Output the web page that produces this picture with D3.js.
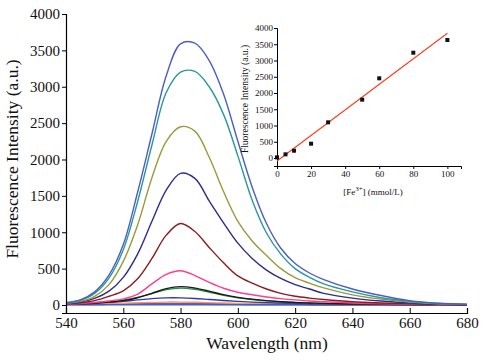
<!DOCTYPE html>
<html>
<head>
<meta charset="utf-8">
<script src="https://cdn.jsdelivr.net/npm/d3@7"></script>
<style>
  body { margin: 0; background: #fff; }
  svg { display: block; font-family: 'Liberation Serif', 'DejaVu Serif', serif; }
</style>
</head>
<body>
<div id="chart"></div>
<script>
// wavelengths (nm) shared by all spectra
var wavelengths = [540, 545, 550, 555, 560, 565, 570, 575, 580, 585, 590, 595, 600, 605, 610, 615, 620, 625, 630, 640, 650, 660, 670, 680];

// spectra, highest first
var spec100 = [30, 70, 180, 410, 830, 1550, 2350, 3150, 3590, 3600, 3360, 2900, 2250, 1620, 1120, 780, 570, 440, 350, 220, 130, 60, 25, 10];
var spec80 = [30, 65, 160, 370, 760, 1420, 2200, 2920, 3200, 3210, 3000, 2620, 2050, 1440, 990, 700, 500, 380, 290, 180, 100, 50, 20, 8];
var spec60 = [25, 50, 120, 280, 600, 1100, 1750, 2250, 2450, 2390, 2030, 1560, 1150, 880, 680, 500, 375, 300, 235, 140, 80, 40, 15, 8];
var spec50 = [20, 40, 90, 190, 380, 700, 1150, 1580, 1810, 1740, 1430, 1130, 850, 640, 480, 365, 280, 220, 160, 95, 55, 28, 12, 5];
var spec30 = [15, 30, 60, 120, 195, 360, 640, 960, 1120, 1010, 790, 580, 400, 300, 220, 160, 120, 95, 75, 45, 28, 15, 8, 4];
var spec20 = [10, 20, 35, 55, 85, 150, 290, 420, 470, 405, 310, 230, 175, 140, 110, 88, 70, 55, 45, 28, 15, 8, 4, 2];
var spec10 = [12, 16, 25, 40, 60, 100, 160, 225, 252, 232, 190, 142, 105, 80, 60, 45, 35, 28, 22, 14, 8, 5, 3, 2];
var spec10b = [14, 20, 30, 46, 66, 104, 158, 212, 232, 214, 176, 132, 98, 74, 56, 42, 33, 26, 20, 13, 8, 5, 3, 2];
var spec5 = [12, 16, 24, 36, 50, 70, 88, 98, 98, 90, 76, 62, 50, 40, 32, 26, 21, 18, 15, 11, 8, 6, 4, 3];
var spec3 = [8, 10, 14, 18, 24, 30, 36, 40, 40, 37, 32, 27, 22, 18, 15, 12, 10, 9, 8, 6, 5, 4, 3, 2];
var spec2 = [20, 18, 16, 16, 17, 18, 20, 21, 21, 20, 19, 17, 15, 13, 12, 10, 9, 8, 7, 6, 5, 4, 3, 2];
var spec1 = [5, 6, 7, 8, 9, 10, 11, 12, 12, 11, 10, 9, 8, 7, 6, 5, 5, 4, 4, 3, 3, 2, 2, 2];
var specGray = [30, 25, 20, 16, 13, 11, 10, 9, 9, 8, 8, 7, 7, 6, 6, 5, 5, 5, 4, 4, 3, 3, 3, 2];
var spec0 = [3, 3, 3, 3, 3, 3, 3, 3, 3, 3, 3, 3, 3, 3, 3, 3, 3, 3, 3, 3, 3, 3, 3, 3];

var spectra = [specGray, spec1, spec2, spec3, spec0, spec5, spec10b, spec10, spec20, spec30, spec50, spec60, spec80, spec100];
var spectraColors = ['#a8a8a8', '#c02828', '#8a4aa8', '#f0a050', '#3d5fd0', '#3434b8', '#1f8f3f', '#1a1a1a', '#ff3d8e', '#8c1c1c', '#2c2c8c', '#9a9a3a', '#2a9898', '#4a5ec6'];

// inset: intensity vs concentration
var concX = [0, 5, 10, 20, 30, 50, 60, 80, 100];
var concY = [20, 113, 225, 440, 1098, 1795, 2452, 3240, 3631];
var fitX = [0, 100];
var fitY = [-92, 3837];

var mainXTicks = [540, 560, 580, 600, 620, 640, 660, 680];
var mainYTicks = [0, 500, 1000, 1500, 2000, 2500, 3000, 3500, 4000];
var insetXTicks = [0, 20, 40, 60, 80, 100];
var insetYTicks = [0, 500, 1000, 1500, 2000, 2500, 3000, 3500, 4000];

var w = 486, h = 360;

function init() {
  var svg = d3.select('#chart').append('svg').attr('width', w).attr('height', h);

  //------------ main plot ------------
  var x = d3.scaleLinear().domain([540, 680]).range([66, 467]);
  var y = d3.scaleLinear().domain([-110, 4000]).range([313, 14]);

  var line = d3.line()
    .x(function (d, i) { return x(wavelengths[i]); })
    .y(function (d) { return y(d); })
    .curve(d3.curveCatmullRom);

  svg.append('g')
    .selectAll('path')
    .data(spectra)
    .enter()
    .append('path')
    .attr('d', line)
    .attr('fill', 'none')
    .attr('stroke', function (d, i) { return spectraColors[i]; })
    .attr('stroke-width', 1.4);

  // x axis, ticks pointing inside
  var xAxis = svg.append('g').attr('transform', 'translate(0,313)');
  xAxis.call(d3.axisBottom(x).tickValues(d3.range(550, 680, 20)).tickSize(-3).tickFormat(''));
  xAxis.call(d3.axisBottom(x).tickValues(mainXTicks).tickSize(-5).tickPadding(4).tickFormat(d3.format('d')));
  xAxis.selectAll('.domain').attr('stroke-width', 1.2);
  xAxis.selectAll('text').attr('font-size', 15).attr('font-family', 'Liberation Serif').attr('fill', '#111');

  // y axis, ticks pointing outside
  var yAxis = svg.append('g').attr('transform', 'translate(66,0)');
  yAxis.call(d3.axisLeft(y).tickValues(d3.range(250, 4000, 500)).tickSize(2).tickFormat(''));
  yAxis.call(d3.axisLeft(y).tickValues(mainYTicks).tickSize(4).tickPadding(2).tickFormat(d3.format('d')));
  yAxis.selectAll('.domain').attr('stroke-width', 1.2);
  yAxis.selectAll('text').attr('font-size', 15).attr('font-family', 'Liberation Serif').attr('fill', '#111');

  svg.append('text')
    .attr('x', 267).attr('y', 349)
    .attr('text-anchor', 'middle')
    .attr('font-size', 17.5)
    .attr('fill', '#111')
    .text('Wavelength (nm)');

  svg.append('text')
    .attr('transform', 'translate(18,159) rotate(-90)')
    .attr('text-anchor', 'middle')
    .attr('font-size', 17.5)
    .attr('fill', '#111')
    .text('Fluorescence Intensity (a.u.)');

  //------------ inset ------------
  var ix = d3.scaleLinear().domain([0, 108]).range([277, 461]);
  var iy = d3.scaleLinear().domain([-246, 4000]).range([166, 28]);

  var ixAxis = svg.append('g').attr('transform', 'translate(0,166)');
  ixAxis.call(d3.axisBottom(ix).tickValues(insetXTicks).tickSize(3).tickPadding(2).tickFormat(d3.format('d')));
  ixAxis.selectAll('text').attr('font-size', 9).attr('font-family', 'Liberation Serif').attr('fill', '#111');

  var iyAxis = svg.append('g').attr('transform', 'translate(277,0)');
  iyAxis.call(d3.axisLeft(iy).tickValues(insetYTicks).tickSize(3).tickPadding(1).tickFormat(d3.format('d')));
  iyAxis.selectAll('text').attr('font-size', 9).attr('font-family', 'Liberation Serif').attr('fill', '#111');

  // linear fit
  svg.append('line')
    .attr('x1', ix(fitX[0])).attr('y1', iy(fitY[0]))
    .attr('x2', ix(fitX[1])).attr('y2', iy(fitY[1]))
    .attr('stroke', '#ff3a1a')
    .attr('stroke-width', 1.1);

  svg.append('g')
    .selectAll('rect')
    .data(concX)
    .enter()
    .append('rect')
    .attr('x', function (d) { return ix(d) - 2; })
    .attr('y', function (d, i) { return iy(concY[i]) - 2; })
    .attr('width', 4)
    .attr('height', 4)
    .attr('fill', '#111');

  var ixLabel = svg.append('text')
    .attr('x', 373).attr('y', 195)
    .attr('text-anchor', 'middle')
    .attr('font-size', 9)
    .attr('fill', '#111');
  ixLabel.append('tspan').text('[Fe');
  ixLabel.append('tspan').attr('dy', -4).attr('font-size', 7).text('3+');
  ixLabel.append('tspan').attr('dy', 4).text('] (mmol/L)');

  svg.append('text')
    .attr('transform', 'translate(248,99) rotate(-90)')
    .attr('text-anchor', 'middle')
    .attr('font-size', 9.5)
    .attr('fill', '#111')
    .text('Fluorescence Intensity (a.u.)');
}

window.onload = init;
</script>
</body>
</html>
